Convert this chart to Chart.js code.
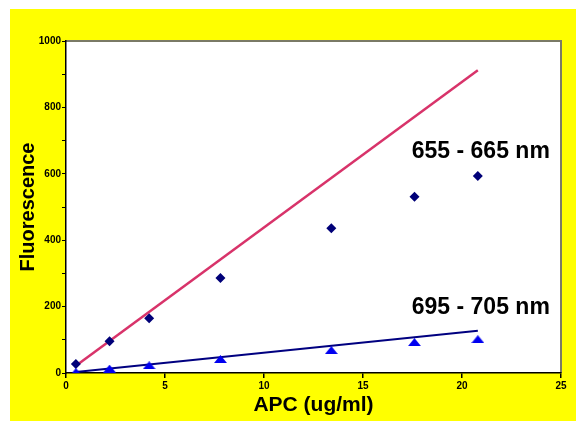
<!DOCTYPE html>
<html>
<head>
<meta charset="utf-8">
<script src="https://cdn.jsdelivr.net/npm/chart.js@4.4.1/dist/chart.umd.min.js"></script>
<style>
html,body{margin:0;padding:0;background:#ffffff;}
canvas{display:block;}
</style>
</head>
<body>
<canvas id="c" width="576" height="421"></canvas>
<script>
// ---- data ----
const apcConc = [0.5, 2.2, 4.2, 7.8, 13.4, 17.6, 20.8];
const fluor655 = [27, 96, 165, 286, 436, 531, 593];
const fluor695 = [3, 13, 23, 42, 69, 93, 102];
const fitX = [0.5, 20.8];
const fit655 = [22, 912];
const fit695 = [3, 127];
const seriesLabels = ['655 - 665 nm', '695 - 705 nm'];
const labelAnchor = [[20.8, 668], [20.8, 198]];
const xTitle = 'APC (ug/ml)';
const yTitle = 'Fluorescence';

function pts(xs, ys){ return xs.map((x,i)=>({x:x, y:ys[i]})); }

// flattened triangle marker
const tri = document.createElement('canvas');
tri.width = 13; tri.height = 8;
(function(){
  const g = tri.getContext('2d');
  g.fillStyle = '#0000f0';
  g.beginPath(); g.moveTo(6.5,0); g.lineTo(13,8); g.lineTo(0,8); g.closePath(); g.fill();
})();

const bgPlugin = {
  id: 'bg',
  beforeDraw(chart){
    const ctx = chart.ctx, a = chart.chartArea;
    ctx.save();
    ctx.fillStyle = '#ffff00';
    ctx.fillRect(10, 9, chart.width - 10, chart.height - 9);
    ctx.fillStyle = '#ffffff';
    ctx.fillRect(a.left, a.top, a.right - a.left, a.bottom - a.top);
    ctx.strokeStyle = '#7a7a66';
    ctx.lineWidth = 2;
    ctx.beginPath();
    ctx.moveTo(a.left, a.top); ctx.lineTo(a.right, a.top); ctx.lineTo(a.right, a.bottom);
    ctx.stroke();
    ctx.restore();
  },
  afterDatasetsDraw(chart){
    const ctx = chart.ctx, xs = chart.scales.x, ys = chart.scales.y;
    ctx.save();
    ctx.fillStyle = '#000000';
    ctx.font = 'bold 23px "Liberation Sans", Arial, sans-serif';
    ctx.textAlign = 'right';
    ctx.textBaseline = 'middle';
    seriesLabels.forEach((t,i)=>{
      const px = xs.getPixelForValue(labelAnchor[i][0]) + 72;
      const py = ys.getPixelForValue(labelAnchor[i][1]);
      ctx.fillText(t, px, py);
    });
    ctx.restore();
  }
};

new Chart(document.getElementById('c'), {
  type: 'scatter',
  data: {
    datasets: [
      { label: 'fit655', type: 'line', data: pts(fitX, fit655), borderColor: '#d8336a', borderWidth: 2.5, pointRadius: 0, fill: false, order: 3 },
      { label: 'fit695', type: 'line', data: pts(fitX, fit695), borderColor: '#000080', borderWidth: 2, pointRadius: 0, fill: false, order: 4 },
      { label: '655', data: pts(apcConc, fluor655), pointStyle: 'rectRot', pointRadius: 5, backgroundColor: '#000078', borderColor: '#000078', borderWidth: 0, order: 1 },
      { label: '695', data: pts(apcConc, fluor695), pointStyle: tri, pointRadius: 6, backgroundColor: '#0000f0', borderColor: '#0000f0', order: 2 }
    ]
  },
  options: {
    responsive: false,
    animation: false,
    events: [],
    layout: { padding: { left: 10, top: 41, right: 15, bottom: 0 } },
    plugins: { legend: { display: false }, tooltip: { enabled: false } },
    scales: {
      x: {
        type: 'linear', min: 0, max: 25,
        ticks: { stepSize: 5, color: '#000', font: { family: '"Liberation Sans", Arial', size: 10, weight: 'bold' }, padding: 2, maxRotation: 0 },
        grid: { drawOnChartArea: false, drawTicks: true, tickLength: 5, color: '#000', lineWidth: 1.5 },
        border: { color: '#000', width: 1.5 },
        title: { display: true, text: xTitle, color: '#000', font: { family: '"Liberation Sans", Arial', size: 21, weight: 'bold' }, padding: { top: 0, bottom: 3 } },
        afterFit(s){ s.height = 48; }
      },
      y: {
        type: 'linear', min: 0, max: 1000,
        ticks: { stepSize: 100, color: '#000', font: { family: '"Liberation Sans", Arial', size: 10, weight: 'bold' }, padding: 1,
          callback: (v)=> (v % 200 === 0 ? String(v) : '') },
        grid: { drawOnChartArea: false, drawTicks: true, tickLength: 4, color: '#000', lineWidth: 1 },
        border: { color: '#000', width: 1.5 },
        title: { display: true, text: yTitle, color: '#000', font: { family: '"Liberation Sans", Arial', size: 20, weight: 'bold' }, padding: { top: 6, bottom: 0 } },
        afterFit(s){ s.width = 56; }
      }
    }
  },
  plugins: [bgPlugin]
});
</script>
</body>
</html>
